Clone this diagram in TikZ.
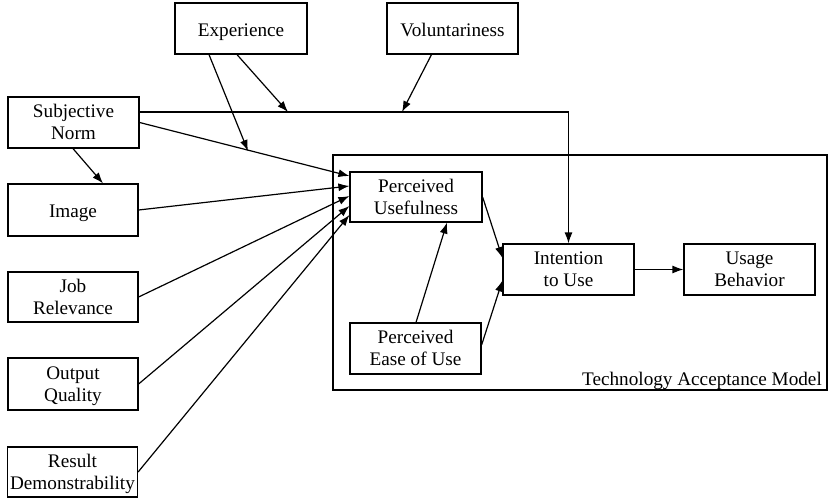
\documentclass[tikz,border=0pt]{standalone}
\usepackage{fontspec}
\setmainfont{Liberation Serif}
\usetikzlibrary{arrows.meta}
\newcommand{\boxtxt}[2][-2pt]{\raisebox{#1}[\height][\depth]{\begin{tabular}{@{}c@{}}#2\end{tabular}}}
\begin{document}
\begin{tikzpicture}[x=1pt,y=-1pt,
  box/.style={draw,line width=1.2pt,inner sep=0pt,
    font=\fontsize{19.2}{22}\selectfont,minimum width=131pt,minimum height=51pt},
  conn/.style={line width=1.2pt,-{Latex[length=11pt,width=8pt]}}]
\useasboundingbox (0,0) rectangle (829,503);
\node[draw,line width=1.2pt,minimum width=494pt,minimum height=235pt,inner sep=0pt] (tam) at (580,272.5) {};
\node[anchor=base east,inner sep=0pt,font=\fontsize{19.2}{22}\selectfont] (tamlabel) at (822,385) {Technology Acceptance Model};
\node[box,minimum width=132pt] (exp) at (241,28.5) {\boxtxt[-3.5pt]{Experience}};
\node[box] (vol) at (452.5,28.5) {\boxtxt[-3.5pt]{Voluntariness}};
\node[box] (sn) at (73.5,122.5) {\boxtxt{Subjective\\Norm}};
\node[box,minimum width=130pt,minimum height=52pt] (img) at (73,210) {\boxtxt[-3.5pt]{Image}};
\node[box,minimum width=130pt,minimum height=50pt] (job) at (73,297) {\boxtxt{Job\\Relevance}};
\node[box,minimum width=130pt,minimum height=52pt] (out) at (73,384) {\boxtxt{Output\\Quality}};
\node[box,minimum width=130pt,minimum height=50pt] (res) at (72.5,472) {\boxtxt{Result\\Demonstrability}};
\node[box,minimum width=132pt,minimum height=50pt] (pu) at (416,197) {\boxtxt{Perceived\\Usefulness}};
\node[box] (peou) at (415.5,348.5) {\boxtxt{Perceived\\Ease of Use}};
\node[box] (int) at (568.5,269.5) {\boxtxt{Intention\\to Use}};
\node[box] (use) at (749.5,269.5) {\boxtxt{Usage\\Behavior}};
\coordinate (m1) at (288,112);
\coordinate (m2) at (402,112);
\coordinate (m3) at (248,151);
% moderated path SN -> intention
\draw[conn] ([yshift=10.5pt]sn.east) -| (int.north);
\draw[conn] ([xshift=-4pt]exp.south) -- (m1);
\draw[conn] ([xshift=-32pt]exp.south) -- (m3);
\draw[conn] ([xshift=-21pt]vol.south) -- (m2);
% determinants of PU
\draw[conn] (sn.east) -- ([yshift=21pt]pu.west);
\draw[conn] ([xshift=-0.5pt]sn.south) -- ([xshift=30pt]img.north);
\draw[conn] (img.east) -- ([yshift=11pt]pu.west);
\draw[conn] (job.east) -- ([yshift=1pt]pu.west);
\draw[conn] (out.east) -- ([yshift=-9pt]pu.west);
\draw[conn] (res.east) -- ([yshift=-18pt]pu.west);
% TAM core
\draw[conn] (pu.east) -- ([yshift=11.5pt]int.west);
\draw[conn] ([yshift=3.5pt]peou.east) -- ([yshift=-11pt]int.west);
\draw[conn] ([xshift=0.5pt]peou.north) -- ([xshift=31pt]pu.south);
\draw[conn] (int.east) -- (use.west);
\end{tikzpicture}
\end{document}
